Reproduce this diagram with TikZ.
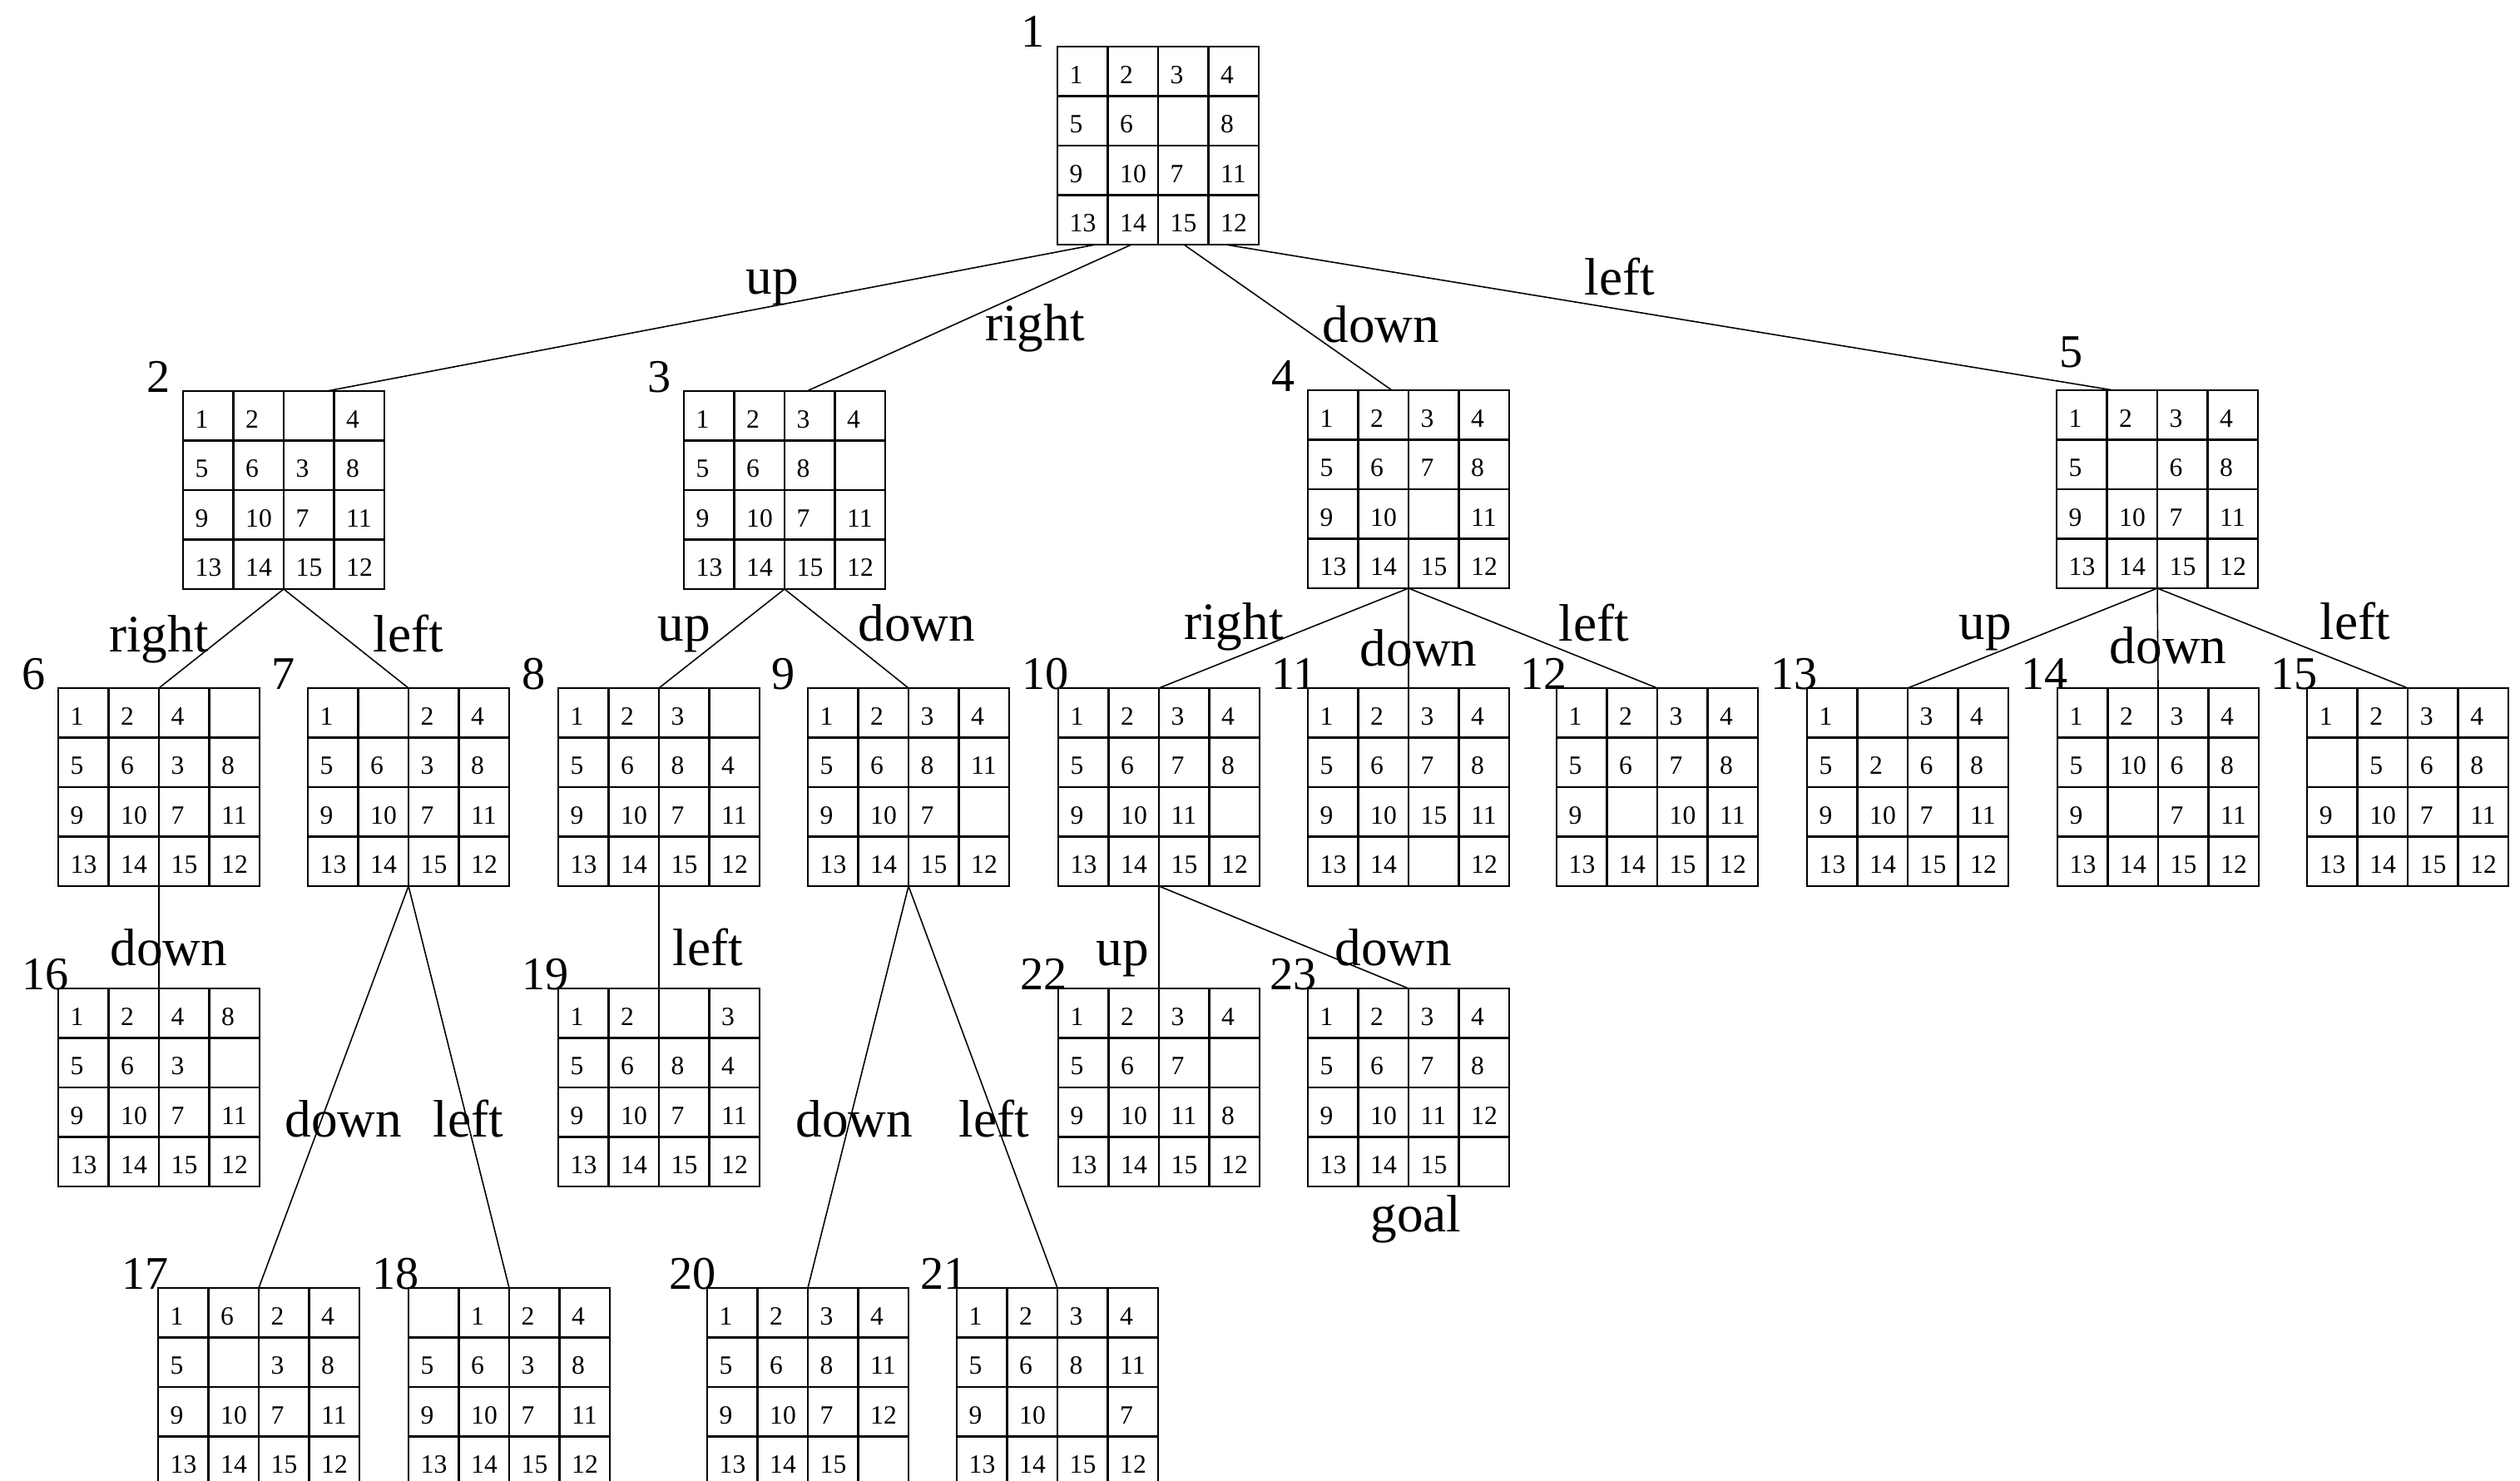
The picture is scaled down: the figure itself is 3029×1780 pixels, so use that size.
\documentclass[tikz,border=0pt]{standalone}
\usepackage{fontspec}
\setmainfont{Liberation Serif}
\usetikzlibrary{calc}
\tikzset{
  board/.style={draw, line width=0.7pt, minimum width=24.2mm, minimum height=23.8mm,
    anchor=north west, inner sep=0pt, outer sep=0pt},
  gridline/.style={line width=0.7pt},
  num/.style={anchor=west, inner sep=0pt, font=\fontsize{9}{9}\selectfont},
  nlabel/.style={anchor=base west, inner sep=0pt, font=\fontsize{16}{16}\selectfont},
  elabel/.style={anchor=base, inner sep=0pt, font=\fontsize{18}{18}\selectfont},
  conn/.style={line width=0.45pt},
}
% name, x, y, label, label offset, entries
\newcommand\puzzle[6]{%
  \node[board] (#1) at (#2,#3) {};
  \foreach \kk in {1,2,3} {
    \draw[gridline] ($(#1.north west)+(\kk*60.5,0)$) -- ($(#1.south west)+(\kk*60.5,0)$);
    \draw[gridline] ($(#1.north west)+(0,\kk*59.5)$) -- ($(#1.north east)+(0,\kk*59.5)$);
  }
  \foreach \v [count=\idx from 0] in {#6} {
    \pgfmathtruncatemacro\colI{mod(\idx,4)}
    \pgfmathtruncatemacro\rowI{div(\idx,4)}
    \node[num] at ($(#1.north west)+(\colI*60.5+14,\rowI*59.5+34)$) {\v};
  }
  \node[nlabel] (#1l) at ($(#1.north west)+#5$) {#4};
}
\begin{document}
\begin{tikzpicture}[x=0.1mm, y=-0.1mm]
\useasboundingbox (0,0) rectangle (3029,1780);
\clip (0,0) rectangle (3029,1780);

\puzzle{n1}{1271}{56}{1}{(-44,1)}{1,2,3,4,5,6,{},8,9,10,7,11,13,14,15,12}
\puzzle{n2}{220}{470}{2}{(-44,1)}{1,2,{},4,5,6,3,8,9,10,7,11,13,14,15,12}
\puzzle{n3}{822}{470}{3}{(-44,1)}{1,2,3,4,5,6,8,{},9,10,7,11,13,14,15,12}
\puzzle{n4}{1572}{469}{4}{(-44,1)}{1,2,3,4,5,6,7,8,9,10,{},11,13,14,15,12}
\puzzle{n5}{2472}{469}{5}{(3,-27)}{1,2,3,4,5,{},6,8,9,10,7,11,13,14,15,12}

\puzzle{n6}{70}{827}{6}{(-44,1)}{1,2,4,{},5,6,3,8,9,10,7,11,13,14,15,12}
\puzzle{n7}{370}{827}{7}{(-44,1)}{1,{},2,4,5,6,3,8,9,10,7,11,13,14,15,12}
\puzzle{n8}{671}{827}{8}{(-44,1)}{1,2,3,{},5,6,8,4,9,10,7,11,13,14,15,12}
\puzzle{n9}{971}{827}{9}{(-44,1)}{1,2,3,4,5,6,8,11,9,10,7,{},13,14,15,12}
\puzzle{n10}{1272}{827}{10}{(-44,1)}{1,2,3,4,5,6,7,8,9,10,11,{},13,14,15,12}
\puzzle{n11}{1572}{827}{11}{(-44,1)}{1,2,3,4,5,6,7,8,9,10,15,11,13,14,{},12}
\puzzle{n12}{1871}{827}{12}{(-44,1)}{1,2,3,4,5,6,7,8,9,{},10,11,13,14,15,12}
\puzzle{n13}{2172}{827}{13}{(-44,1)}{1,{},3,4,5,2,6,8,9,10,7,11,13,14,15,12}
\puzzle{n14}{2473}{827}{14}{(-44,1)}{1,2,3,4,5,10,6,8,9,{},7,11,13,14,15,12}
\puzzle{n15}{2773}{827}{15}{(-44,1)}{1,2,3,4,{},5,6,8,9,10,7,11,13,14,15,12}

\puzzle{n16}{70}{1188}{16}{(-44,1)}{1,2,4,8,5,6,3,{},9,10,7,11,13,14,15,12}
\puzzle{n19}{671}{1188}{19}{(-44,1)}{1,2,{},3,5,6,8,4,9,10,7,11,13,14,15,12}
\puzzle{n22}{1272}{1188}{22}{(-46,1)}{1,2,3,4,5,6,7,{},9,10,11,8,13,14,15,12}
\puzzle{n23}{1572}{1188}{23}{(-46,1)}{1,2,3,4,5,6,7,8,9,10,11,12,13,14,15,{}}

\puzzle{n17}{190}{1548}{17}{(-44,1)}{1,6,2,4,5,{},3,8,9,10,7,11,13,14,15,12}
\puzzle{n18}{491}{1548}{18}{(-44,1)}{{},1,2,4,5,6,3,8,9,10,7,11,13,14,15,12}
\puzzle{n20}{850}{1548}{20}{(-46,1)}{1,2,3,4,5,6,8,11,9,10,7,12,13,14,15,{}}
\puzzle{n21}{1150}{1548}{21}{(-44,1)}{1,2,3,4,5,6,8,11,9,10,{},7,13,14,15,12}

% connectors
\draw[conn] ($(n1.south west)+(46,0)$) -- ($(n2.north west)+(173,0)$);
\draw[conn] ($(n1.south west)+(89,0)$) -- ($(n3.north west)+(148,0)$);
\draw[conn] ($(n1.south west)+(152,0)$) -- ($(n4.north west)+(101,0)$);
\draw[conn] ($(n1.south west)+(202,0)$) -- ($(n5.north west)+(68,0)$);
\draw[conn] (n2.south) -- (n6.north);
\draw[conn] (n2.south) -- (n7.north);
\draw[conn] (n3.south) -- (n8.north);
\draw[conn] (n3.south) -- (n9.north);
\draw[conn] (n4.south) -- (n10.north);
\draw[conn] (n4.south) -- (n11.north);
\draw[conn] (n4.south) -- (n12.north);
\draw[conn] (n5.south) -- (n13.north);
\draw[conn] (n5.south) -- (n14.north);
\draw[conn] (n5.south) -- (n15.north);
\draw[conn] (n6.south) -- (n16.north);
\draw[conn] (n8.south) -- (n19.north);
\draw[conn] (n10.south) -- (n22.north);
\draw[conn] (n10.south) -- (n23.north);
\draw[conn] (n7.south) -- (n17.north);
\draw[conn] (n7.south) -- (n18.north);
\draw[conn] (n9.south) -- (n20.north);
\draw[conn] (n9.south) -- (n21.north);

% edge labels
\node[elabel] (e2) at (928,354) {up};
\node[elabel] (e3) at (1244,410) {right};
\node[elabel] (e4) at (1660,412) {down};
\node[elabel] (e5) at (1947,355) {left};
\node[elabel] (e6) at (191,783) {right};
\node[elabel] (e7) at (491,783) {left};
\node[elabel] (e8) at (822,770) {up};
\node[elabel] (e9) at (1102,770) {down};
\node[elabel] (e10) at (1483,768) {right};
\node[elabel] (e11) at (1705,800) {down};
\node[elabel] (e12) at (1916,770) {left};
\node[elabel] (e13) at (2386,768) {up};
\node[elabel] (e14) at (2606,797) {down};
\node[elabel] (e15) at (2831,768) {left};
\node[elabel] (e16) at (203,1160) {down};
\node[elabel] (e19) at (851,1160) {left};
\node[elabel] (e22) at (1349,1160) {up};
\node[elabel] (e23) at (1675,1160) {down};
\node[elabel] (e17) at (413,1366) {down};
\node[elabel] (e18) at (563,1366) {left};
\node[elabel] (e20) at (1027,1366) {down};
\node[elabel] (e21) at (1195,1366) {left};
\node[elabel] (goal) at (1702,1480) {goal};
\end{tikzpicture}
\end{document}
